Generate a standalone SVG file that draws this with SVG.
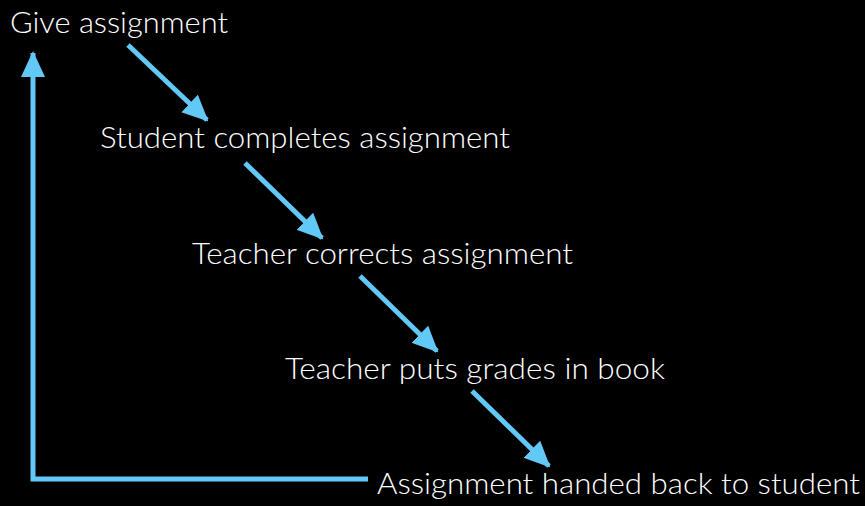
<svg xmlns="http://www.w3.org/2000/svg" width="865" height="506" viewBox="0 0 865 506">
  <style>
    .label { font-family: Lato, "Open Sans", sans-serif; font-weight: 300; font-size: 30px; fill: #ffffff; }
    .flow { stroke: #62C8F5; stroke-width: 5; fill: none; }
  </style>
  <defs>
    <marker id="head" markerUnits="userSpaceOnUse" markerWidth="26" markerHeight="26" viewBox="0 0 26 26" refX="24" refY="13" orient="auto">
      <path d="M0,1 L26,13 L0,25 Z" fill="#62C8F5"/>
    </marker>
  </defs>
  <rect width="865" height="506" fill="#000000"/>

  <g id="connectors">
    <line class="flow" x1="128" y1="45" x2="207" y2="120" marker-end="url(#head)"/>
    <line class="flow" x1="245" y1="163" x2="322" y2="238" marker-end="url(#head)"/>
    <line class="flow" x1="360" y1="276" x2="437" y2="351" marker-end="url(#head)"/>
    <line class="flow" x1="472" y1="391" x2="549" y2="466" marker-end="url(#head)"/>
    <polyline class="flow" points="368,479 33,479 33,53" marker-end="url(#head)"/>
  </g>

  <g id="give-assignment">
    <text class="label" x="10" y="33" textLength="218" lengthAdjust="spacingAndGlyphs">Give assignment</text>
  </g>
  <g id="student-completes">
    <text class="label" x="100" y="148" textLength="410" lengthAdjust="spacingAndGlyphs">Student completes assignment</text>
  </g>
  <g id="teacher-corrects">
    <text class="label" x="192" y="264" textLength="381" lengthAdjust="spacingAndGlyphs">Teacher corrects assignment</text>
  </g>
  <g id="teacher-grades">
    <text class="label" x="285" y="379" textLength="380" lengthAdjust="spacingAndGlyphs">Teacher puts grades in book</text>
  </g>
  <g id="handed-back">
    <text class="label" x="377" y="494" textLength="483" lengthAdjust="spacingAndGlyphs">Assignment handed back to student</text>
  </g>
</svg>
